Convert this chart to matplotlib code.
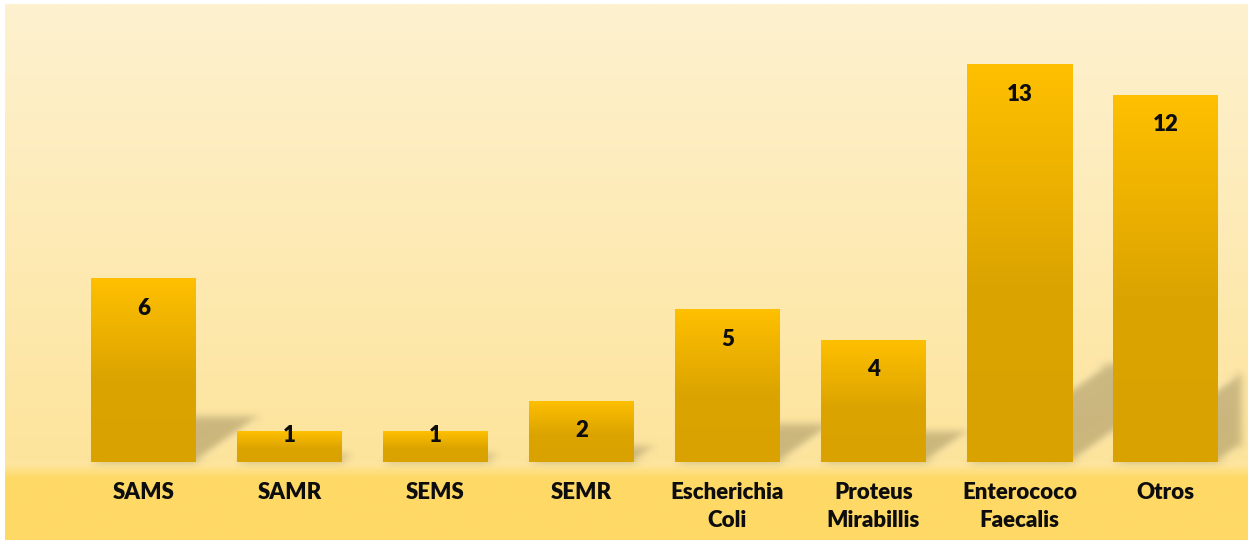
import numpy as np
import matplotlib
matplotlib.use("Agg")
import matplotlib.pyplot as plt
from matplotlib.colors import LinearSegmentedColormap
from matplotlib.patches import Polygon, Rectangle

# ---------------- data ----------------
categories = ["SAMS", "SAMR", "SEMS", "SEMR", "Escherichia\nColi",
              "Proteus\nMirabillis", "Enterococo\nFaecalis", "Otros"]
values = [6, 1, 1, 2, 5, 4, 13, 12]

# ---------------- style ----------------
plt.rcParams['font.family'] = ['Lato', 'DejaVu Sans']
TEXT = '#0d0d0d'
FIG_W, FIG_H, DPI = 1248, 540, 100

fig = plt.figure(figsize=(FIG_W / DPI, FIG_H / DPI), dpi=DPI)
fig.patch.set_facecolor('white')

left_px, top_px = 5, 4
ax = fig.add_axes([left_px / FIG_W, 0, (FIG_W - left_px) / FIG_W, (FIG_H - top_px) / FIG_H])
ax.set_axis_off()

sp, x0px = 146.0, 143.5
upx, base_px = 30.6, 462.0
ax.set_xlim((left_px - x0px) / sp, (FIG_W - x0px) / sp)
ax.set_ylim(-(FIG_H - base_px) / upx, (base_px - top_px) / upx)

# ---------------- background gradient ----------------
frac_base = (FIG_H - base_px) / (FIG_H - top_px)
bg_stops = [(0.0, '#ffd966'), (frac_base - 0.032, '#ffd966'), (frac_base - 0.004, '#fde6a2'),
            (frac_base, '#fde49c'), (1.0, '#fef1cf')]
bg_cmap = LinearSegmentedColormap.from_list('bg', bg_stops)
grad = np.linspace(0, 1, 600).reshape(-1, 1)
ax.imshow(grad, cmap=bg_cmap, aspect='auto', extent=[0, 1, 0, 1], origin='lower',
          transform=ax.transAxes, zorder=0, interpolation='bilinear')

# ---------------- shadow blur filter ----------------
def gauss_blur(sigma):
    def _f(im, dpi):
        s = sigma
        r = int(3 * s)
        k = np.exp(-0.5 * (np.arange(-r, r + 1) / s) ** 2)
        k /= k.sum()
        pad = r
        h, w, c = im.shape
        out = np.zeros((h + 2 * pad, w + 2 * pad, c))
        out[pad:pad + h, pad:pad + w] = im
        tmp = np.zeros_like(out)
        for i, kv in enumerate(k):
            tmp += kv * np.roll(out, i - r, axis=0)
        out2 = np.zeros_like(out)
        for i, kv in enumerate(k):
            out2 += kv * np.roll(tmp, i - r, axis=1)
        return out2, -pad, -pad
    return _f

bar_w = 105.0 / sp
x = np.arange(len(values))

# ---------------- shadows ----------------
sh_h = 0.245
sh_shift = 0.073
for xi, v in zip(x, values):
    hh = v * sh_h
    dx = v * sh_shift
    poly = Polygon([(xi - bar_w / 2, 0), (xi + bar_w / 2, 0),
                    (xi + bar_w / 2 + dx, hh), (xi - bar_w / 2 + dx, hh)],
                   closed=True, facecolor='#2b2410', alpha=0.24, edgecolor='none', zorder=1)
    poly.set_agg_filter(gauss_blur(4.0))
    ax.add_patch(poly)
    poly.set_clip_path(Rectangle((-1, 0), 8.5 + 0.015, 20, transform=ax.transData))

# ---------------- bars with vertical gradient ----------------
bar_cmap = LinearSegmentedColormap.from_list('bar', [(0.0, '#d9a200'), (0.45, '#dca400'),
                                                     (1.0, '#ffc000')])
bars = ax.bar(x, values, width=bar_w, color='none', edgecolor='none', zorder=2)
for b, v in zip(bars, values):
    x_l = b.get_x()
    g = np.linspace(0, 1, 256).reshape(-1, 1)
    im = ax.imshow(g, cmap=bar_cmap, aspect='auto', origin='lower',
                   extent=[x_l, x_l + b.get_width(), 0, v], zorder=2, interpolation='bilinear')
    im.set_clip_path(b)

# ---------------- labels ----------------
pad = 30.0 / upx
for xi, v in zip(x, values):
    ly = v - pad if v - pad > 0.5 else v - 0.15
    ax.text(xi, ly, str(v), ha='center', va='center', fontsize=16,
            fontweight='heavy', color=TEXT, zorder=3)

for xi, c in zip(x, categories):
    ax.text(xi, -20.0 / upx, c, ha='center', va='top', fontsize=16, fontweight='heavy',
            color=TEXT, linespacing=1.4, zorder=3)

fig.savefig('out.png', dpi=DPI, facecolor='white')
